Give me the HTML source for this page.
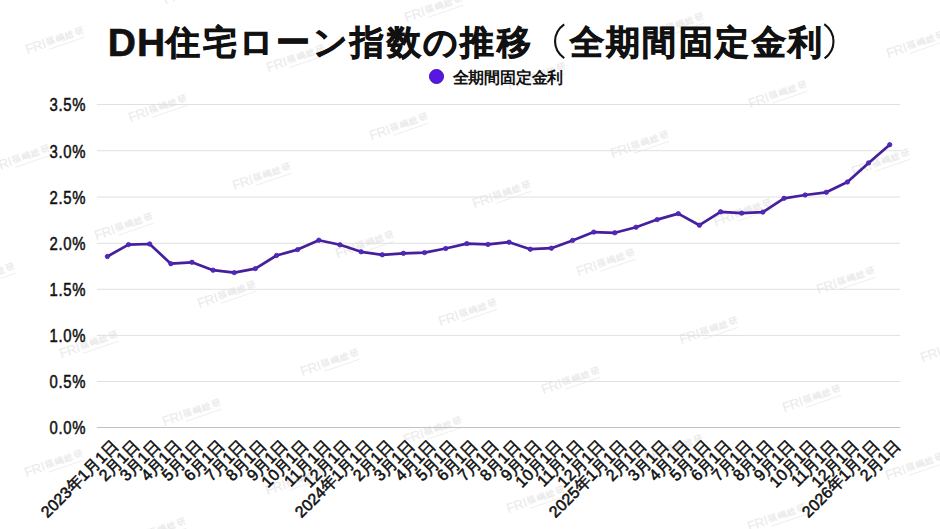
<!DOCTYPE html><html lang="ja"><head><meta charset="utf-8"><title>DH住宅ローン指数の推移</title><style>
*{margin:0;padding:0;box-sizing:border-box}
html,body{width:940px;height:529px;background:#fff;overflow:hidden}
body{position:relative;font-family:"Liberation Sans",sans-serif;color:#111}
.t{position:absolute;left:107.8px;top:22px;font-size:36px;font-weight:bold;line-height:40px;height:40px;white-space:nowrap}
.dh{font-size:39px;-webkit-text-stroke:0.6px #111;letter-spacing:1.0px;position:relative;top:0.5px}
.pp{color:transparent;-webkit-text-stroke:0 transparent}
.cj{letter-spacing:2.4px;font-size:34px;-webkit-text-stroke:0.8px #111;position:relative;top:-1.5px}
.lg{position:absolute;left:428.8px;top:68.6px;width:15.4px;height:15.4px;border-radius:50%;background:#5816e6;border:1.2px solid #4012a8}
.lt{position:absolute;left:452.5px;top:69.7px;letter-spacing:-0.2px;font-size:16px;font-weight:bold;line-height:1;white-space:nowrap}
.g{position:absolute;left:96.8px;width:803.5px;height:1px;background:#e2e2e2}
.g0{background:#bdbdbd}
.yl{position:absolute;right:854.2px;font-size:17.5px;line-height:20px;height:20px;white-space:nowrap;letter-spacing:0.8px;-webkit-text-stroke:0.5px #111;transform:scaleX(0.85);transform-origin:100% 50%}
.xl{position:absolute;font-size:16px;line-height:18px;height:18px;white-space:nowrap;transform-origin:100% 0;transform:rotate(-45deg);-webkit-text-stroke:0.55px #111;letter-spacing:0px}
.wm{position:absolute;width:0;height:0;transform-origin:0 0;transform:rotate(-19deg);color:#eaeaea;white-space:nowrap}
.wm .f{position:absolute;left:-0.5px;top:-11.7px;font-size:13.5px;line-height:14px;letter-spacing:-0.4px}
.wm .k{position:absolute;left:21.5px;top:-9.8px;font-size:8.6px;line-height:9px;font-weight:bold;letter-spacing:1.1px;color:#ebebeb}
.wm .s{position:absolute;left:21.5px;top:0.5px;width:37px;height:1px;background:#efefef}
svg{position:absolute;left:0;top:0}
</style></head><body>
<div class="wm" style="left:28.3px;top:54.8px"><span class="f">FRI</span><span class="k">福嶋総研</span><span class="s"></span></div>
<div class="wm" style="left:166.1px;top:4.7px"><span class="f">FRI</span><span class="k">福嶋総研</span><span class="s"></span></div>
<div class="wm" style="left:-6.4px;top:173.0px"><span class="f">FRI</span><span class="k">福嶋総研</span><span class="s"></span></div>
<div class="wm" style="left:131.4px;top:122.9px"><span class="f">FRI</span><span class="k">福嶋総研</span><span class="s"></span></div>
<div class="wm" style="left:269.2px;top:72.8px"><span class="f">FRI</span><span class="k">福嶋総研</span><span class="s"></span></div>
<div class="wm" style="left:407.0px;top:22.7px"><span class="f">FRI</span><span class="k">福嶋総研</span><span class="s"></span></div>
<div class="wm" style="left:-41.1px;top:291.2px"><span class="f">FRI</span><span class="k">福嶋総研</span><span class="s"></span></div>
<div class="wm" style="left:96.7px;top:241.1px"><span class="f">FRI</span><span class="k">福嶋総研</span><span class="s"></span></div>
<div class="wm" style="left:234.5px;top:191.0px"><span class="f">FRI</span><span class="k">福嶋総研</span><span class="s"></span></div>
<div class="wm" style="left:372.3px;top:140.9px"><span class="f">FRI</span><span class="k">福嶋総研</span><span class="s"></span></div>
<div class="wm" style="left:510.1px;top:90.8px"><span class="f">FRI</span><span class="k">福嶋総研</span><span class="s"></span></div>
<div class="wm" style="left:647.9px;top:40.7px"><span class="f">FRI</span><span class="k">福嶋総研</span><span class="s"></span></div>
<div class="wm" style="left:62.0px;top:359.3px"><span class="f">FRI</span><span class="k">福嶋総研</span><span class="s"></span></div>
<div class="wm" style="left:199.8px;top:309.2px"><span class="f">FRI</span><span class="k">福嶋総研</span><span class="s"></span></div>
<div class="wm" style="left:337.6px;top:259.1px"><span class="f">FRI</span><span class="k">福嶋総研</span><span class="s"></span></div>
<div class="wm" style="left:475.4px;top:209.0px"><span class="f">FRI</span><span class="k">福嶋総研</span><span class="s"></span></div>
<div class="wm" style="left:613.2px;top:158.9px"><span class="f">FRI</span><span class="k">福嶋総研</span><span class="s"></span></div>
<div class="wm" style="left:751.0px;top:108.8px"><span class="f">FRI</span><span class="k">福嶋総研</span><span class="s"></span></div>
<div class="wm" style="left:888.8px;top:58.7px"><span class="f">FRI</span><span class="k">福嶋総研</span><span class="s"></span></div>
<div class="wm" style="left:27.3px;top:477.5px"><span class="f">FRI</span><span class="k">福嶋総研</span><span class="s"></span></div>
<div class="wm" style="left:165.1px;top:427.4px"><span class="f">FRI</span><span class="k">福嶋総研</span><span class="s"></span></div>
<div class="wm" style="left:302.9px;top:377.3px"><span class="f">FRI</span><span class="k">福嶋総研</span><span class="s"></span></div>
<div class="wm" style="left:440.7px;top:327.2px"><span class="f">FRI</span><span class="k">福嶋総研</span><span class="s"></span></div>
<div class="wm" style="left:578.5px;top:277.1px"><span class="f">FRI</span><span class="k">福嶋総研</span><span class="s"></span></div>
<div class="wm" style="left:716.3px;top:227.0px"><span class="f">FRI</span><span class="k">福嶋総研</span><span class="s"></span></div>
<div class="wm" style="left:854.1px;top:176.9px"><span class="f">FRI</span><span class="k">福嶋総研</span><span class="s"></span></div>
<div class="wm" style="left:130.4px;top:545.6px"><span class="f">FRI</span><span class="k">福嶋総研</span><span class="s"></span></div>
<div class="wm" style="left:268.2px;top:495.5px"><span class="f">FRI</span><span class="k">福嶋総研</span><span class="s"></span></div>
<div class="wm" style="left:406.0px;top:445.4px"><span class="f">FRI</span><span class="k">福嶋総研</span><span class="s"></span></div>
<div class="wm" style="left:543.8px;top:395.3px"><span class="f">FRI</span><span class="k">福嶋総研</span><span class="s"></span></div>
<div class="wm" style="left:681.6px;top:345.2px"><span class="f">FRI</span><span class="k">福嶋総研</span><span class="s"></span></div>
<div class="wm" style="left:819.4px;top:295.1px"><span class="f">FRI</span><span class="k">福嶋総研</span><span class="s"></span></div>
<div class="wm" style="left:509.1px;top:513.5px"><span class="f">FRI</span><span class="k">福嶋総研</span><span class="s"></span></div>
<div class="wm" style="left:646.9px;top:463.4px"><span class="f">FRI</span><span class="k">福嶋総研</span><span class="s"></span></div>
<div class="wm" style="left:784.7px;top:413.3px"><span class="f">FRI</span><span class="k">福嶋総研</span><span class="s"></span></div>
<div class="wm" style="left:922.5px;top:363.2px"><span class="f">FRI</span><span class="k">福嶋総研</span><span class="s"></span></div>
<div class="wm" style="left:750.0px;top:531.5px"><span class="f">FRI</span><span class="k">福嶋総研</span><span class="s"></span></div>
<div class="wm" style="left:887.8px;top:481.4px"><span class="f">FRI</span><span class="k">福嶋総研</span><span class="s"></span></div>
<div class="t"><span class="dh">DH</span><span class="cj">住宅ローン指数の推移<span class="pp">（</span>全期間固定金利<span class="pp">）</span></span></div>
<div class="lg"></div><div class="lt">全期間固定金利</div>
<div class="yl" style="top:418.30px">0.0%</div>
<div class="yl" style="top:372.30px">0.5%</div>
<div class="yl" style="top:326.20px">1.0%</div>
<div class="yl" style="top:280.10px">1.5%</div>
<div class="yl" style="top:234.10px">2.0%</div>
<div class="yl" style="top:187.80px">2.5%</div>
<div class="yl" style="top:141.50px">3.0%</div>
<div class="yl" style="top:95.30px">3.5%</div>
<svg width="940" height="529" viewBox="0 0 940 529"><line x1="96.8" x2="900.3" y1="427.5" y2="427.5" stroke="#c2c2c2" stroke-width="1"/><line x1="96.8" x2="900.3" y1="381.5" y2="381.5" stroke="#e0e0e0" stroke-width="1"/><line x1="96.8" x2="900.3" y1="335.4" y2="335.4" stroke="#e0e0e0" stroke-width="1"/><line x1="96.8" x2="900.3" y1="289.3" y2="289.3" stroke="#e0e0e0" stroke-width="1"/><line x1="96.8" x2="900.3" y1="243.3" y2="243.3" stroke="#e0e0e0" stroke-width="1"/><line x1="96.8" x2="900.3" y1="197.0" y2="197.0" stroke="#e0e0e0" stroke-width="1"/><line x1="96.8" x2="900.3" y1="150.7" y2="150.7" stroke="#e0e0e0" stroke-width="1"/><line x1="96.8" x2="900.3" y1="104.5" y2="104.5" stroke="#e0e0e0" stroke-width="1"/><polyline points="107.37,256.50 128.52,244.60 149.66,244.00 170.81,263.70 191.95,262.30 213.10,270.20 234.24,272.60 255.39,268.60 276.53,255.50 297.68,249.60 318.82,240.20 339.96,244.80 361.11,251.80 382.25,254.80 403.40,253.30 424.54,252.60 445.69,248.50 466.83,243.60 487.98,244.40 509.12,242.20 530.27,249.20 551.41,248.20 572.56,240.40 593.70,232.10 614.85,232.80 635.99,227.20 657.14,219.60 678.28,213.60 699.42,225.20 720.57,211.80 741.71,213.10 762.86,212.10 784.00,198.30 805.15,195.00 826.29,192.30 847.44,182.00 868.58,162.90 889.73,144.70" fill="none" stroke="#44209c" stroke-width="2.7" stroke-linejoin="round"/><path d="M564.2 24.3C552 33 552 49.5 564.2 58.1M824.3 24.1C836.5 33 836.5 49.5 824.6 58.4" fill="none" stroke="#111" stroke-width="2.1"/><g fill="#5625c4" stroke="#44209c" stroke-width="0.7"><circle cx="107.37" cy="256.50" r="2.2"/><circle cx="128.52" cy="244.60" r="2.2"/><circle cx="149.66" cy="244.00" r="2.2"/><circle cx="170.81" cy="263.70" r="2.2"/><circle cx="191.95" cy="262.30" r="2.2"/><circle cx="213.10" cy="270.20" r="2.2"/><circle cx="234.24" cy="272.60" r="2.2"/><circle cx="255.39" cy="268.60" r="2.2"/><circle cx="276.53" cy="255.50" r="2.2"/><circle cx="297.68" cy="249.60" r="2.2"/><circle cx="318.82" cy="240.20" r="2.2"/><circle cx="339.96" cy="244.80" r="2.2"/><circle cx="361.11" cy="251.80" r="2.2"/><circle cx="382.25" cy="254.80" r="2.2"/><circle cx="403.40" cy="253.30" r="2.2"/><circle cx="424.54" cy="252.60" r="2.2"/><circle cx="445.69" cy="248.50" r="2.2"/><circle cx="466.83" cy="243.60" r="2.2"/><circle cx="487.98" cy="244.40" r="2.2"/><circle cx="509.12" cy="242.20" r="2.2"/><circle cx="530.27" cy="249.20" r="2.2"/><circle cx="551.41" cy="248.20" r="2.2"/><circle cx="572.56" cy="240.40" r="2.2"/><circle cx="593.70" cy="232.10" r="2.2"/><circle cx="614.85" cy="232.80" r="2.2"/><circle cx="635.99" cy="227.20" r="2.2"/><circle cx="657.14" cy="219.60" r="2.2"/><circle cx="678.28" cy="213.60" r="2.2"/><circle cx="699.42" cy="225.20" r="2.2"/><circle cx="720.57" cy="211.80" r="2.2"/><circle cx="741.71" cy="213.10" r="2.2"/><circle cx="762.86" cy="212.10" r="2.2"/><circle cx="784.00" cy="198.30" r="2.2"/><circle cx="805.15" cy="195.00" r="2.2"/><circle cx="826.29" cy="192.30" r="2.2"/><circle cx="847.44" cy="182.00" r="2.2"/><circle cx="868.58" cy="162.90" r="2.2"/><circle cx="889.73" cy="144.70" r="2.2"/></g></svg>
<div class="xl" style="right:830.43px;top:437px">2023年1月1日</div>
<div class="xl" style="right:809.28px;top:437px">2月1日</div>
<div class="xl" style="right:788.14px;top:437px">3月1日</div>
<div class="xl" style="right:766.99px;top:437px">4月1日</div>
<div class="xl" style="right:745.85px;top:437px">5月1日</div>
<div class="xl" style="right:724.70px;top:437px">6月1日</div>
<div class="xl" style="right:703.56px;top:437px">7月1日</div>
<div class="xl" style="right:682.41px;top:437px">8月1日</div>
<div class="xl" style="right:661.27px;top:437px">9月1日</div>
<div class="xl" style="right:640.12px;top:437px">10月1日</div>
<div class="xl" style="right:618.98px;top:437px">11月1日</div>
<div class="xl" style="right:597.84px;top:437px">12月1日</div>
<div class="xl" style="right:576.69px;top:437px">2024年1月1日</div>
<div class="xl" style="right:555.55px;top:437px">2月1日</div>
<div class="xl" style="right:534.40px;top:437px">3月1日</div>
<div class="xl" style="right:513.26px;top:437px">4月1日</div>
<div class="xl" style="right:492.11px;top:437px">5月1日</div>
<div class="xl" style="right:470.97px;top:437px">6月1日</div>
<div class="xl" style="right:449.82px;top:437px">7月1日</div>
<div class="xl" style="right:428.68px;top:437px">8月1日</div>
<div class="xl" style="right:407.53px;top:437px">9月1日</div>
<div class="xl" style="right:386.39px;top:437px">10月1日</div>
<div class="xl" style="right:365.24px;top:437px">11月1日</div>
<div class="xl" style="right:344.10px;top:437px">12月1日</div>
<div class="xl" style="right:322.95px;top:437px">2025年1月1日</div>
<div class="xl" style="right:301.81px;top:437px">2月1日</div>
<div class="xl" style="right:280.66px;top:437px">3月1日</div>
<div class="xl" style="right:259.52px;top:437px">4月1日</div>
<div class="xl" style="right:238.38px;top:437px">5月1日</div>
<div class="xl" style="right:217.23px;top:437px">6月1日</div>
<div class="xl" style="right:196.09px;top:437px">7月1日</div>
<div class="xl" style="right:174.94px;top:437px">8月1日</div>
<div class="xl" style="right:153.80px;top:437px">9月1日</div>
<div class="xl" style="right:132.65px;top:437px">10月1日</div>
<div class="xl" style="right:111.51px;top:437px">11月1日</div>
<div class="xl" style="right:90.36px;top:437px">12月1日</div>
<div class="xl" style="right:69.22px;top:437px">2026年1月1日</div>
<div class="xl" style="right:48.07px;top:437px">2月1日</div>
</body></html>
